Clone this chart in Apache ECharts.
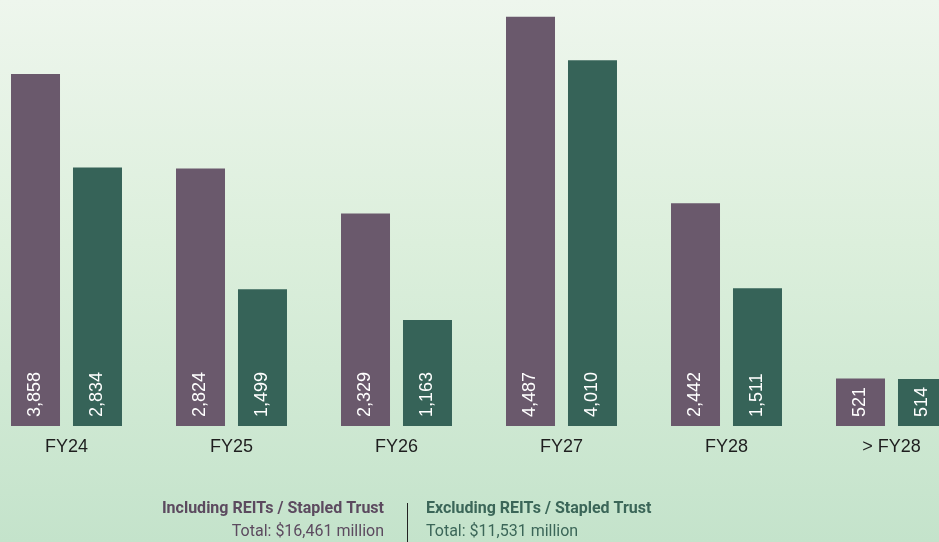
<!DOCTYPE html>
<html>
<head>
<meta charset="utf-8">
<script src="https://cdn.jsdelivr.net/npm/echarts@6/dist/echarts.min.js"></script>
<style>
  html, body { margin: 0; padding: 0; }
  #chart {
    width: 939px; height: 542px;
    background: linear-gradient(to bottom, #eef6ed 0%, #dcefdc 45%, #c4e3cb 100%);
  }
</style>
</head>
<body>
<div id="chart"></div>
<script>
  // maturity profile data
  var categories = ['FY24', 'FY25', 'FY26', 'FY27', 'FY28', '> FY28'];
  var incReits = [3858, 2824, 2329, 4487, 2442, 521];
  var excReits = [2834, 1499, 1163, 4010, 1511, 514];

  var purple = '#6a596c';
  var green = '#366358';

  var chart = echarts.init(document.getElementById('chart'));

  var barLabel = {
    show: true,
    position: 'insideBottom',
    rotate: 90,
    align: 'left',
    verticalAlign: 'middle',
    distance: 9,
    color: '#fff',
    fontFamily: 'Liberation Sans',
    fontSize: 18,
    formatter: function (p) { return p.value.toLocaleString('en-US'); }
  };

  chart.setOption({
    backgroundColor: 'transparent',
    animation: false,
    grid: { left: -16, right: -35, top: 0, bottom: 116, outerBoundsMode: 'none', containLabel: false },
    xAxis: {
      type: 'category',
      data: categories,
      axisLine: { show: false },
      axisTick: { show: false },
      axisLabel: { color: '#1e1e1e', fontSize: 18, fontFamily: 'Liberation Sans', margin: 12 }
    },
    yAxis: {
      type: 'value',
      min: 0,
      max: 4670,
      show: false,
      splitLine: { show: false }
    },
    series: [
      {
        name: 'Including REITs / Stapled Trust',
        type: 'bar',
        data: incReits,
        barWidth: 49,
        barGap: '26.5%',
        itemStyle: { color: purple },
        label: barLabel
      },
      {
        name: 'Excluding REITs / Stapled Trust',
        type: 'bar',
        data: excReits,
        barWidth: 49,
        itemStyle: { color: green },
        label: barLabel
      }
    ],
    graphic: [
      {
        type: 'text', right: 939 - 384, top: 501,
        style: { text: 'Including REITs / Stapled Trust', fill: '#5c4a5f', font: 'bold 16px Roboto', textAlign: 'right' }
      },
      {
        type: 'text', right: 939 - 384, top: 524,
        style: { text: 'Total: $16,461 million', fill: '#5c4a5f', font: '16px Roboto', textAlign: 'right' }
      },
      {
        type: 'line',
        shape: { x1: 407.5, y1: 503, x2: 407.5, y2: 542 },
        style: { stroke: '#222', lineWidth: 1 }
      },
      {
        type: 'text', left: 426, top: 501,
        style: { text: 'Excluding REITs / Stapled Trust', fill: '#3b6658', font: 'bold 16px Roboto' }
      },
      {
        type: 'text', left: 426, top: 524,
        style: { text: 'Total: $11,531 million', fill: '#3b6658', font: '16px Roboto' }
      }
    ]
  });
</script>
</body>
</html>
